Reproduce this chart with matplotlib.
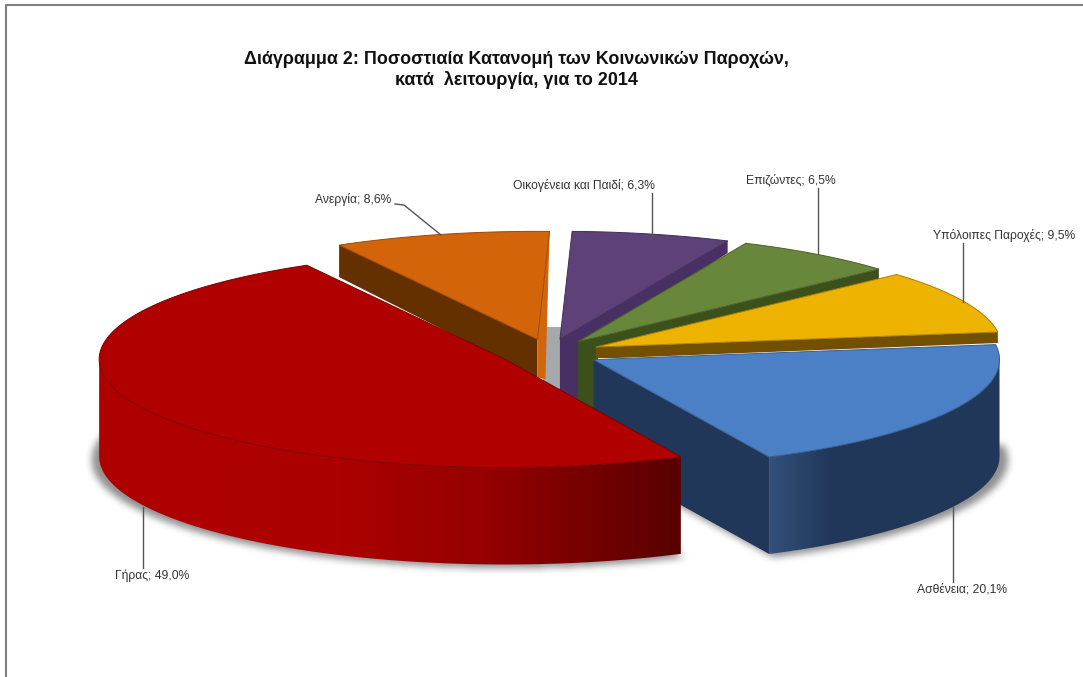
import numpy as np
import matplotlib
matplotlib.use('Agg')
import matplotlib.pyplot as plt
from matplotlib.path import Path
from matplotlib.patches import Polygon

plt.rcParams['font.family'] = ['Liberation Sans', 'DejaVu Sans']

# same order as the chart, clockwise from the right hand side
categories = ['Ασθένεια', 'Γήρας', 'Ανεργία', 'Οικογένεια και Παιδί', 'Επιζώντες', 'Υπόλοιπες Παροχές']
values = [20.1, 49.0, 8.6, 6.3, 6.5, 9.5]
top_colors = ['#4b80c6', '#b00000', '#d4640a', '#5d4178', '#69873a', '#eeb200']
wall_colors = ['#21375a', '#640000', '#643000', '#483064', '#3c501c', '#735000']

W, H = 1083, 677
cx, cy = 548, 353
rx, ry = 406, 108
explode = 0.13
depth = 97
start = 8.0
nudge = [-1, 4, 2, 0, -1, 0]

fig = plt.figure(figsize=(W / 100, H / 100), dpi=100)
ax = fig.add_axes([0, 0, 1, 1])
ax.set_xlim(0, W)
ax.set_ylim(H, 0)
ax.autoscale(False)
ax.axis('off')

# wedge angles and exploded centres
spans = np.array(values) / sum(values) * 360
ends = start - np.cumsum(spans)
starts = ends + spans
mids = (starts + ends) / 2
centres = [(cx + nudge[k] + explode * rx * np.cos(np.radians(m)), cy - explode * ry * np.sin(np.radians(m)))
           for k, m in enumerate(mids)]


def rim(c, a, sx=1.0, sy=1.0, dy=0):
    # a in degrees, counted anticlockwise, y pixels go down
    a = np.radians(a)
    return np.column_stack([c[0] + sx * rx * np.cos(a), c[1] + dy - sy * ry * np.sin(a)])


def face(i, sx=1.0, sy=1.0, dy=0):
    arc = rim(centres[i], np.linspace(starts[i], ends[i], 120), sx, sy, dy)
    return np.vstack([[centres[i][0], centres[i][1] + dy], arc])


def blur(a, n, passes=3):
    for _ in range(passes):
        for axis in (0, 1):
            c = np.cumsum(a, axis=axis)
            a = (np.roll(c, -n, axis=axis) - np.roll(c, n + 1, axis=axis)) / (2 * n + 1)
            a = np.clip(a, 0, 1)
    return a


# shadow under the pie
yy, xx = np.mgrid[0:H, 0:W]
pts = np.column_stack([xx.ravel(), yy.ravel()])
mask = np.zeros(W * H)
for i in range(2):
    mask = np.maximum(mask, Path(face(i, 1.02, 1.0, depth + 3)).contains_points(pts))
mask = blur(mask.reshape(H, W), 3)
shadow = np.zeros((H, W, 4))
shadow[..., :3] = 0.42
shadow[..., 3] = mask * 0.75
ax.imshow(shadow, extent=(0, W, H, 0), zorder=1, aspect='auto')

# grey gap between Ανεργία and Οικογένεια
ax.add_patch(Polygon([(543, 327), (562, 327), (562, 392), (543, 392)], fc='#a6a9ab', ec='none', zorder=1.5))


def poly(p, fc, z, ec='none', lw=0):
    ax.add_patch(Polygon(p, closed=True, fc=fc, ec=ec, lw=lw, zorder=z))


def darker(h, f):
    return np.array(matplotlib.colors.to_rgb(h)) * f


def outer_wall(i, xs, reds, greens, blues, z):
    # horizontal gradient clipped to the curved side, only the part facing the viewer
    a = np.linspace(min(starts[i], 0), max(ends[i], -180), 200)
    p = rim(centres[i], a)
    outline = np.vstack([p, (p + (0, depth))[::-1]])
    px = np.arange(W)
    grad = np.zeros((1, W, 3))
    grad[0, :, 0] = np.interp(px, xs, reds) / 255
    grad[0, :, 1] = np.interp(px, xs, greens) / 255
    grad[0, :, 2] = np.interp(px, xs, blues) / 255
    im = ax.imshow(grad, extent=(0, W, H, 0), zorder=z, aspect='auto')
    im.set_clip_path(Polygon(outline, closed=True, transform=ax.transData))


# back wedges first, the red one goes over everything
# (corner depth, apex depth, strip depth at the apex)
thin = {3: (12, 78, 9), 4: (10, 76, 9), 5: (11, 11, 11)}
for i, z in zip([2, 3, 4, 5, 0, 1], [2, 3, 4, 5, 6, 7]):
    c = np.array(centres[i])
    if i == 2:
        # brown wall facing the viewer, thin orange one on the right
        corner = rim(c, np.array([starts[i]]))[0]
        poly([c, corner, corner + (0, 32), c + (0, 38)], wall_colors[i], z)
        corner2 = rim(c, np.array([ends[i]]))[0]
        poly([corner2, c, c + (0, 38), c + (8, 40)], '#d2660c', z)
    elif i in thin:
        dc, da, ds = thin[i]
        corner = rim(c, np.array([ends[i]]))[0]
        poly([c, corner, corner + (0, dc), c + (20, ds), c + (20, da), c + (0, da)], wall_colors[i], z)
    elif i == 0:
        corner = rim(c, np.array([ends[i]]))[0]
        poly([c, corner, corner + (0, depth), c + (0, depth)], wall_colors[i], z)
        outer_wall(i, [770, 790, 830, 1001], [50, 44, 33, 33], [80, 72, 55, 55], [122, 112, 90, 90], z)
    else:
        outer_wall(i, [97, 340, 480, 683], [176, 172, 150, 88], [0, 0, 0, 0], [0, 0, 0, 0], z)
    poly(face(i), top_colors[i], z + 0.5, ec=darker(top_colors[i], 0.72), lw=0.7)

# labels with their leader lines
label_x = [962, 152, 353, 584, 791, 1004]
label_y = [590, 576, 200, 186, 180, 236]
leaders = [
    [(953, 507), (953, 582)],
    [(143, 507), (143, 568)],
    [(395, 204), (404, 205), (441, 235)],
    [(652, 193), (652, 236)],
    [(818, 188), (818, 254)],
    [(963, 243), (963, 302)],
]
for i, name in enumerate(categories):
    txt = f'{name}; {values[i]:.1f}%'.replace('.', ',')
    ax.text(label_x[i], label_y[i], txt, ha='center', va='center', fontsize=8.7, color='#333333', zorder=10)
    ax.plot(*zip(*leaders[i]), color='#555555', lw=1.0, zorder=9)

ax.text(516, 59, 'Διάγραμμα 2: Ποσοστιαία Κατανομή των Κοινωνικών Παροχών,', ha='center', va='center',
        fontsize=12.9, fontweight='bold', color='#111111', zorder=10)
ax.text(516, 80, 'κατά  λειτουργία, για το 2014', ha='center', va='center',
        fontsize=12.9, fontweight='bold', color='#111111', zorder=10)

# frame of the picture
ax.plot([6, 6, W], [H, 5, 5], color='#808080', lw=1.5, zorder=10)

fig.savefig('out.png', dpi=100)
